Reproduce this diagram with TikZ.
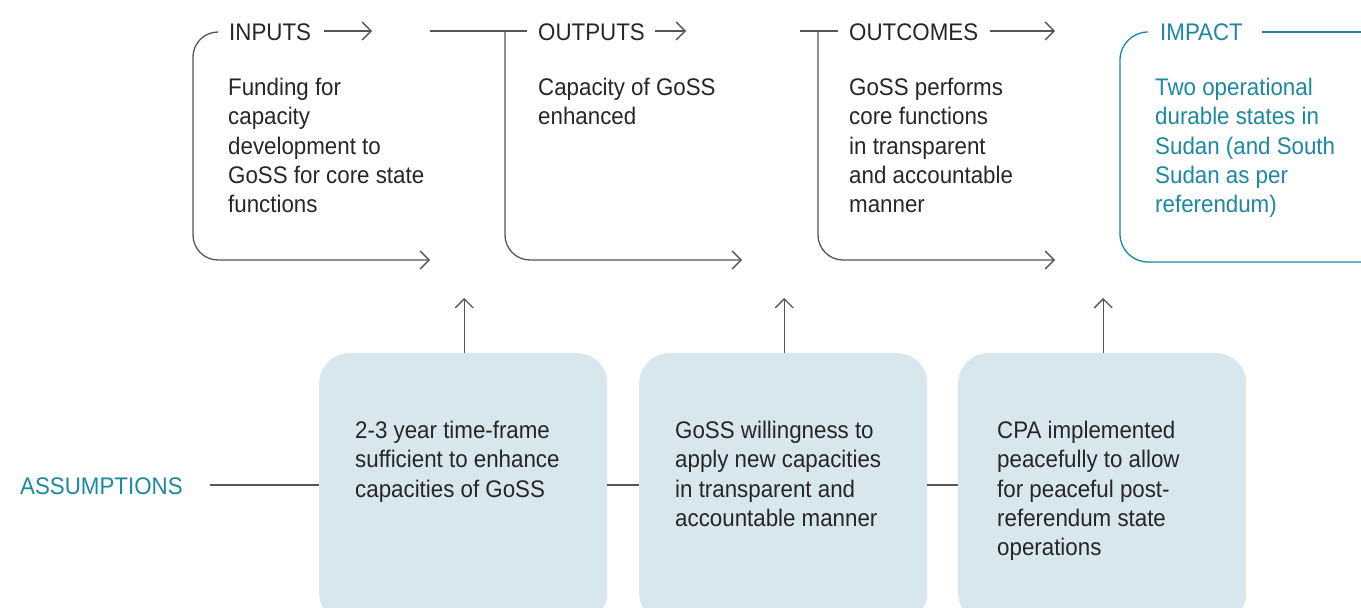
\documentclass[tikz,border=0pt]{standalone}
\usepackage{fontspec}
\setmainfont{Liberation Sans}[FakeStretch=0.93]
\usetikzlibrary{arrows.meta}
\definecolor{tealc}{HTML}{1D87A0}
\definecolor{boxfill}{HTML}{D8E6EE}
\definecolor{linegray}{HTML}{555555}
\definecolor{txt}{HTML}{262626}
\begin{document}
\begin{tikzpicture}[x=1pt,y=-1pt,
  conn/.style={draw=linegray, line width=1.3pt},
  arr/.style={conn, -{Straight Barb[length=9pt,width=18pt,line width=1.3pt]}},
  head/.style={font=\fontsize{24}{29.3}\selectfont, text=txt, inner sep=0pt, anchor=base west},
  body/.style={font=\fontsize{24}{29.3}\selectfont, text=txt, align=left, inner sep=0pt, anchor=north west},
  abox/.style={fill=boxfill, rounded corners=30pt, minimum width=288pt, minimum height=270pt, inner sep=0pt, anchor=north west}]
\useasboundingbox (0,0) rectangle (1361,608);
\clip (0,0) rectangle (1361,608);

% headings
\node[head] (hin) at (229,40) {INPUTS};
\node[head] (hout) at (538,40) {OUTPUTS};
\node[head] (hoc) at (849,40) {OUTCOMES};
\node[head,text=tealc] (him) at (1160,40) {IMPACT};

% heading arrows and top lines
\coordinate (a1s) at (324,31); \coordinate (a1e) at (372,31);
\coordinate (a2s) at (655,31); \coordinate (a2e) at (686,31);
\coordinate (a3s) at (990,31); \coordinate (a3e) at (1055,31);
\draw[arr] (a1s) -- (a1e);
\draw[arr] (a2s) -- (a2e);
\draw[arr] (a3s) -- (a3e);
\coordinate (t2s) at (430,31); \coordinate (t2e) at (527,31);
\coordinate (t3s) at (800,31); \coordinate (t3e) at (838,31);
\draw[conn] (t2s) -- (t2e);
\draw[conn] (t3s) -- (t3e);
\coordinate (t4s) at (1262,32); \coordinate (t4e) at (1361,32);
\draw[tealc, line width=1.3pt] (t4s) -- (t4e);

% brackets
\coordinate (b1a) at (218,32); \coordinate (b1b) at (193,32); \coordinate (b1c) at (193,260); \coordinate (b1d) at (430,260);
\draw[arr, rounded corners=25pt] (b1a) -- (b1b) -- (b1c) -- (b1d);
\coordinate (b2a) at (505,31); \coordinate (b2c) at (505,260); \coordinate (b2d) at (742,260);
\draw[arr, rounded corners=25pt] (b2a) -- (b2c) -- (b2d);
\coordinate (b3a) at (818,31); \coordinate (b3c) at (818,260); \coordinate (b3d) at (1055,260);
\draw[arr, rounded corners=25pt] (b3a) -- (b3c) -- (b3d);
\coordinate (b4a) at (1148,32); \coordinate (b4b) at (1120,32); \coordinate (b4c) at (1120,262); \coordinate (b4d) at (1390,262);
\draw[tealc, line width=1.3pt, rounded corners=28pt] (b4a) -- (b4b) -- (b4c) -- (b4d);

% texts
\node[body] (tin) at (228,78) {Funding for\\capacity\\development to\\GoSS for core state\\functions};
\node[body] (tout) at (538,78) {Capacity of GoSS\\enhanced};
\node[body] (toc) at (849,78) {GoSS performs\\core functions\\in transparent\\and accountable\\manner};
\node[body,text=tealc] (tim) at (1155,78) {Two operational\\durable states in\\Sudan (and South\\Sudan as per\\referendum)};

% assumption boxes
\node[abox] (x1) at (319,353) {};
\node[abox] (x2) at (639,353) {};
\node[abox] (x3) at (958,353) {};
\node[body] (x1t) at (355,421) {2-3 year time-frame\\sufficient to enhance\\capacities of GoSS};
\node[body] (x2t) at (675,421) {GoSS willingness to\\apply new capacities\\in transparent and\\accountable manner};
\node[body] (x3t) at (997,421) {CPA implemented\\peacefully to allow\\for peaceful post-\\referendum state\\operations};

\draw[arr] ([xshift=1pt]x1.north) -- ++(0,-55);
\draw[arr] ([xshift=1pt]x2.north) -- ++(0,-55);
\draw[arr] ([xshift=1pt]x3.north) -- ++(0,-55);

% assumptions
\node[head,text=tealc] (as) at (20,494) {ASSUMPTIONS};
\coordinate (al) at (210,485);
\draw[conn] (al) -- (al -| x1.west);
\draw[conn] (al -| x1.east) -- (al -| x2.west);
\draw[conn] (al -| x2.east) -- (al -| x3.west);
\end{tikzpicture}
\end{document}
